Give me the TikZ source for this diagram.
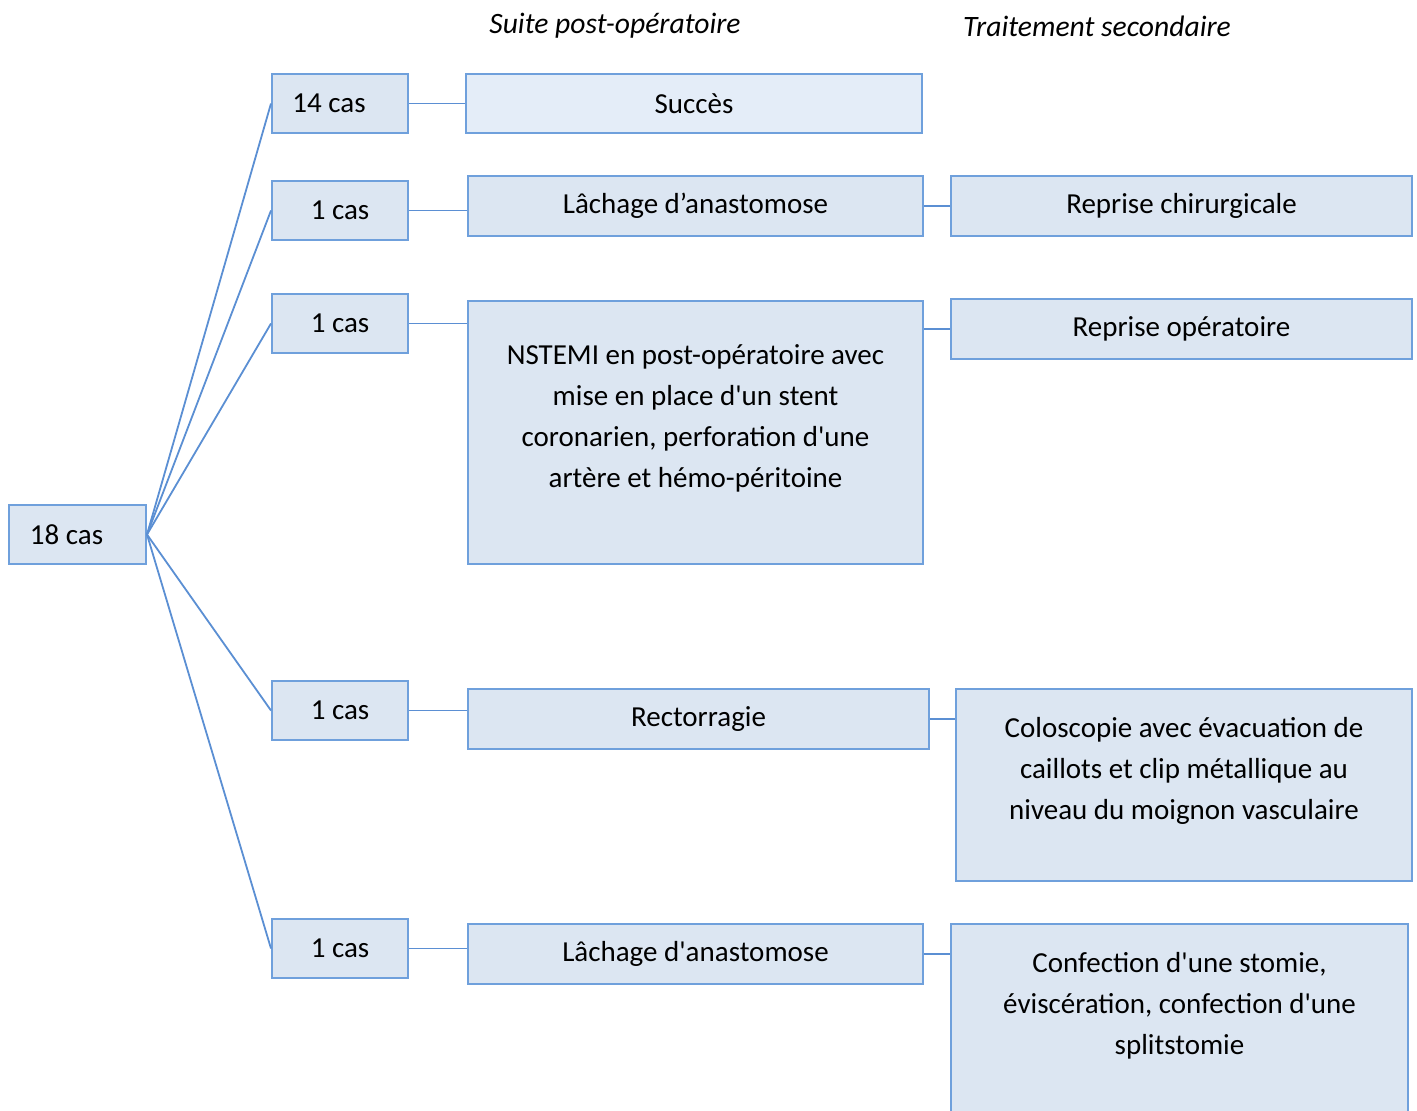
\documentclass[tikz,border=0pt]{standalone}
\usepackage{fontspec}
\setmainfont{Carlito}[Ligatures=TeXOff]
\usetikzlibrary{positioning}
\definecolor{boxfill}{HTML}{DCE6F2}
\definecolor{boxfilllight}{HTML}{E4EDF8}
\definecolor{boxline}{HTML}{6FA0DC}
\definecolor{linkline}{HTML}{5B8FD3}
\tikzset{
  box/.style={draw=boxline, fill=boxfill, line width=1pt, anchor=north west,
    inner sep=0pt, minimum height=29.5pt, align=center,
    font=\fontsize{14.5}{20.5}\selectfont},
  link/.style={draw=linkline, line width=0.9pt},
  head/.style={font=\fontsize{14.8}{17}\selectfont\itshape}
}

\begin{document}
\begin{tikzpicture}[x=0.5pt,y=-0.5pt]
\useasboundingbox (0,0) rectangle (1417,1110);
% column titles
\node[head] (hsuite) at (615,26) {Suite post-opératoire};
\node[head] (htrait) at (1097,26) {Traitement secondaire};
% cases
\node[box, minimum width=68.5pt] (tot) at (8,504) {18 cas\hspace*{11pt}};
\node[box, minimum width=68pt] (c14) at (271,73) {14 cas\hspace*{11pt}};
\node[box, minimum width=68pt] (ca) at (271,180) {1 cas};
\node[box, minimum width=68pt] (cb) at (271,293) {1 cas};
\node[box, minimum width=68pt] (cc) at (271,680) {1 cas};
\node[box, minimum width=68pt] (cd) at (271,918) {1 cas};
% suites
\node[box, fill=boxfilllight, minimum width=228pt] (succes) at (465,73) {Succès};
\node[box, minimum width=227.5pt, minimum height=30pt] (lach1) at (467,175) {Lâchage d’anastomose};
\node[box, minimum width=227.5pt, minimum height=131.5pt] (nstemi) at (467,300)
  {NSTEMI en post-opératoire avec\\mise en place d'un stent\\coronarien, perforation d'une\\artère et hémo-péritoine\\[-4pt]};
\node[box, minimum width=230.5pt, minimum height=30pt] (rect) at (467,688) {Rectorragie};
\node[box, minimum width=227.5pt, minimum height=30pt] (lach2) at (467,923) {Lâchage d'anastomose};
% traitements
\node[box, minimum width=230.5pt, minimum height=30pt] (repc) at (950,175) {Reprise chirurgicale};
\node[box, minimum width=230.5pt, minimum height=30pt] (repo) at (950,298) {Reprise opératoire};
\node[box, minimum width=228pt, minimum height=96pt] (colo) at (955,688)
  {Coloscopie avec évacuation de\\caillots et clip métallique au\\niveau du moignon vasculaire\\[-4pt]};
\node[box, minimum width=228.5pt, minimum height=96pt] (conf) at (950,923)
  {Confection d'une stomie,\\éviscération, confection d'une\\splitstomie\\[-4pt]};
% connectors
\path[link]
  (tot.east) edge (c14.west)
  (tot.east) edge (ca.west)
  (tot.east) edge (cb.west)
  (tot.east) edge (cc.west)
  (tot.east) edge (cd.west)
  (c14.east) edge (c14.east -| succes.west)
  (ca.east) edge (ca.east -| lach1.west)
  (cb.east) edge (cb.east -| nstemi.west)
  (cc.east) edge (cc.east -| rect.west)
  (cd.east) edge (cd.east -| lach2.west)
  (lach1.east) edge (repc.west)
  (repo.west -| nstemi.east) edge (repo.west)
  (rect.east) edge (rect.east -| colo.west)
  (lach2.east) edge (lach2.east -| conf.west);
\end{tikzpicture}
\end{document}
